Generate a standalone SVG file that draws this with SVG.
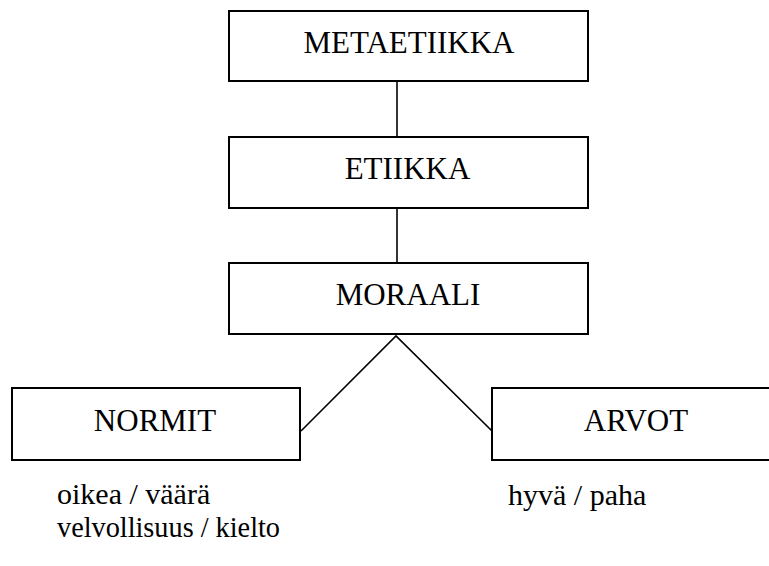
<svg xmlns="http://www.w3.org/2000/svg" width="769" height="566" viewBox="0 0 769 566">
<style>
.box{fill:#fff;stroke:#000;stroke-width:2}
.t{font-family:"Liberation Serif","Times New Roman",serif;font-size:31px;fill:#000;text-anchor:middle}
.b{font-family:"Liberation Serif","Times New Roman",serif;font-size:30px;fill:#000}
.c{fill:none;stroke:#000;stroke-width:1.6}
</style>
<rect width="769" height="566" fill="#fff"/>
<g id="connectors">
<line class="c" x1="397" y1="82" x2="397" y2="137"/>
<line class="c" x1="397" y1="208" x2="397" y2="263"/>
<polyline class="c" points="301,431 396,336 492,431"/>
</g>
<g id="metaetiikka">
<rect class="box" x="229" y="11" width="359" height="70"/>
<text class="t" x="409" y="53">METAETIIKKA</text>
</g>
<g id="etiikka">
<rect class="box" x="229" y="137" width="359" height="71"/>
<text class="t" x="407.5" y="179">ETIIKKA</text>
</g>
<g id="moraali">
<rect class="box" x="229" y="263" width="359" height="71"/>
<text class="t" x="408" y="305">MORAALI</text>
</g>
<g id="normit">
<rect class="box" x="12" y="388" width="288" height="72"/>
<text class="t" x="155" y="431">NORMIT</text>
</g>
<g id="arvot">
<rect class="box" x="492" y="388" width="290" height="72"/>
<text class="t" x="636" y="431">ARVOT</text>
</g>
<g id="labels">
<text class="b" x="57" y="504">oikea / väärä</text>
<text class="b" x="57" y="537" textLength="223" lengthAdjust="spacingAndGlyphs">velvollisuus / kielto</text>
<text class="b" x="508" y="505">hyvä / paha</text>
</g>
</svg>
